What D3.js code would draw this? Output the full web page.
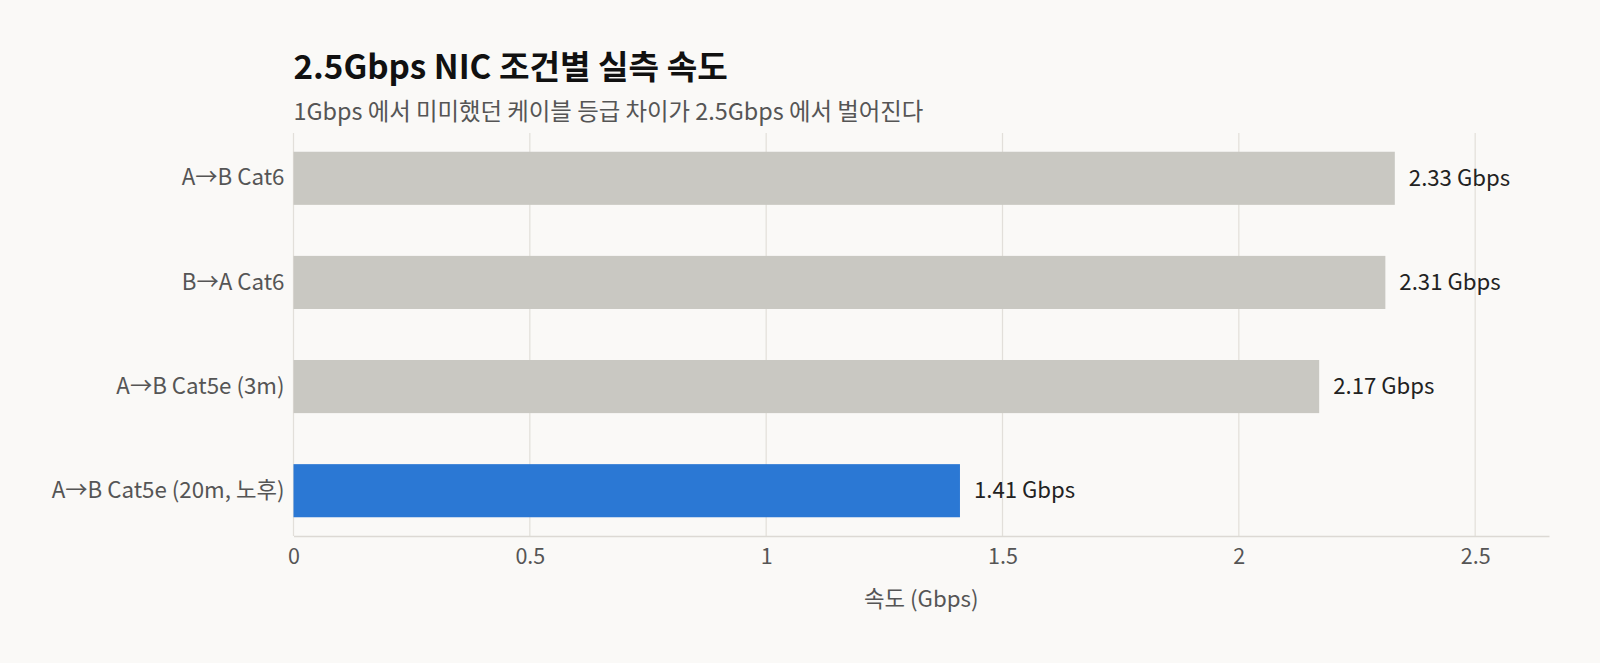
<!DOCTYPE html>
<html>
<head>
<meta charset="utf-8">
<script src="https://cdn.jsdelivr.net/npm/d3@7"></script>
<style>
  html, body { margin: 0; padding: 0; background: #faf9f7; }
  svg { display: block; font-family: "Noto Sans CJK KR", "Noto Sans", sans-serif; }
</style>
</head>
<body>
<div id="chart"></div>
<script>
// Chart data.
const categories = ["A→B Cat6", "B→A Cat6", "A→B Cat5e (3m)", "A→B Cat5e (20m, 노후)"];
const speeds = [2.33, 2.31, 2.17, 1.41];
const highlighted = [false, false, false, true];
const xTicks = [0, 0.5, 1, 1.5, 2, 2.5];

const titleText = "2.5Gbps NIC 조건별 실측 속도";
const subtitleText = "1Gbps 에서 미미했던 케이블 등급 차이가 2.5Gbps 에서 벌어진다";
const xAxisTitle = "속도 (Gbps)";

// Window-level sizes.
const winW = 1600;
const winH = 663;
const margin = { top: 133, right: 51, bottom: 127, left: 293.5 };
const plotW = winW - margin.left - margin.right;
const plotH = winH - margin.top - margin.bottom;

const rows = categories.map((c, i) => ({ name: c, value: speeds[i], hi: highlighted[i] }));

const svg = d3.select("#chart").append("svg")
  .attr("width", winW)
  .attr("height", winH);

svg.append("rect")
  .attr("width", winW)
  .attr("height", winH)
  .attr("fill", "#faf9f7");

// Title and subtitle.
svg.append("text")
  .attr("x", margin.left)
  .attr("y", 79)
  .attr("font-size", 33.2)
  .attr("font-weight", 700)
  .attr("fill", "#111")
  .text(titleText);

svg.append("text")
  .attr("x", margin.left)
  .attr("y", 120)
  .attr("font-size", 23.4)
  .attr("fill", "#555")
  .text(subtitleText);

const g = svg.append("g")
  .attr("transform", "translate(" + margin.left + "," + margin.top + ")");

const x = d3.scaleLinear()
  .domain([0, d3.max(speeds) * 1.14])
  .range([0, plotW]);

const y = d3.scaleBand()
  .domain(categories)
  .range([0, plotH])
  .paddingInner(0.49)
  .paddingOuter(0.18);

// Vertical grid lines.
g.selectAll("line.grid")
  .data(xTicks)
  .enter()
  .append("line")
  .attr("class", "grid")
  .attr("x1", d => x(d))
  .attr("x2", d => x(d))
  .attr("y1", 0)
  .attr("y2", plotH)
  .attr("stroke", "#e2dfda")
  .attr("stroke-width", 1.2);

// Bottom axis.
const xAxis = d3.axisBottom(x)
  .tickValues(xTicks)
  .tickSize(0)
  .tickPadding(13)
  .tickFormat(d3.format("~g"));

const xg = g.append("g")
  .attr("transform", "translate(0," + plotH + ")")
  .call(xAxis);
xg.select(".domain").attr("stroke", "#dcd9d4").attr("stroke-width", 1.5);
xg.selectAll("text")
  .attr("font-size", 21.5)
  .attr("fill", "#555")
  .attr("font-family", "\"Noto Sans CJK KR\", sans-serif");

// Left axis (labels only).
const yAxis = d3.axisLeft(y).tickSize(0).tickPadding(9);
const yg = g.append("g").call(yAxis);
yg.select(".domain").remove();
yg.selectAll("text")
  .attr("font-size", 22.3)
  .attr("fill", "#555")
  .attr("font-family", "\"Noto Sans CJK KR\", sans-serif");

// Bars.
g.selectAll("rect.bar")
  .data(rows)
  .enter()
  .append("rect")
  .attr("class", "bar")
  .attr("x", 0)
  .attr("y", d => y(d.name))
  .attr("width", d => x(d.value))
  .attr("height", y.bandwidth())
  .attr("fill", d => d.hi ? "#2b78d4" : "#c9c8c2");

// Value labels.
g.selectAll("text.val")
  .data(rows)
  .enter()
  .append("text")
  .attr("class", "val")
  .attr("x", d => x(d.value) + 14)
  .attr("y", d => y(d.name) + y.bandwidth() / 2)
  .attr("dy", "0.35em")
  .attr("font-size", 22.2)
  .attr("fill", "#222")
  .text(d => d.value.toFixed(2) + " Gbps");

// Axis title.
svg.append("text")
  .attr("x", margin.left + plotW / 2)
  .attr("y", 607)
  .attr("text-anchor", "middle")
  .attr("font-size", 22.3)
  .attr("fill", "#555")
  .text(xAxisTitle);
</script>
</body>
</html>
